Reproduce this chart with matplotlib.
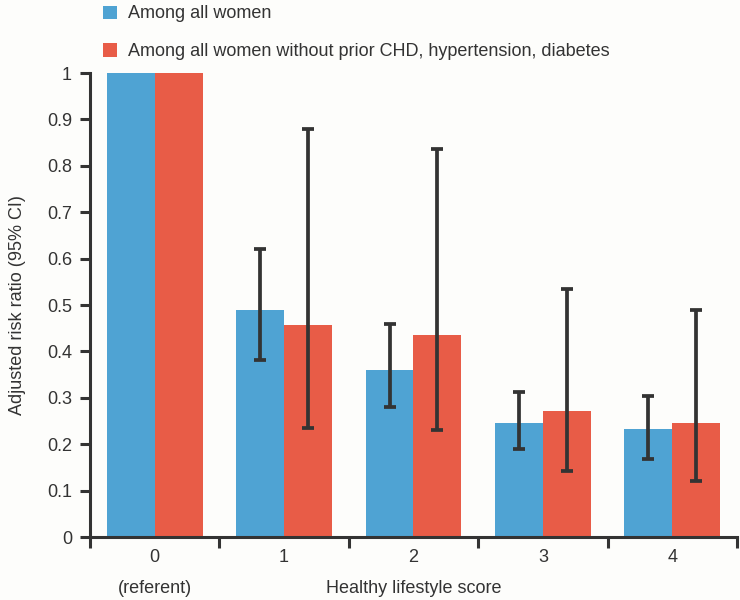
import matplotlib.pyplot as plt
import numpy as np

plt.rcParams['font.family'] = ['Liberation Sans Narrow', 'Liberation Sans', 'DejaVu Sans']

scores = ["0", "1", "2", "3", "4"]
series_names = ["Among all women",
                "Among all women without prior CHD, hypertension, diabetes"]
all_rr = [1.0, 0.49, 0.36, 0.246, 0.233]
all_lo = [np.nan, 0.381, 0.28, 0.19, 0.168]
all_hi = [np.nan, 0.62, 0.459, 0.312, 0.304]
noprior_rr = [1.0, 0.457, 0.435, 0.272, 0.246]
noprior_lo = [np.nan, 0.235, 0.231, 0.142, 0.121]
noprior_hi = [np.nan, 0.879, 0.836, 0.534, 0.49]

blue = '#4FA3D3'
red = '#E85C47'
dark = '#333333'

fig = plt.figure(figsize=(7.4, 6), dpi=100)
fig.patch.set_facecolor('#FDFDFB')
ax = fig.add_axes([0.1216, 0.105, 0.8743, 0.7733])
ax.set_facecolor('#FDFDFB')

x = np.arange(len(scores))
w = 0.37

def errs(rr, lo, hi):
    rr = np.array(rr); lo = np.array(lo); hi = np.array(hi)
    return np.vstack([rr - lo, hi - rr])

b1 = ax.bar(x - w / 2, all_rr, w, color=blue, label=series_names[0])
b2 = ax.bar(x + w / 2, noprior_rr, w, color=red, label=series_names[1])
# confidence intervals
ax.errorbar(x - w / 2, all_rr, yerr=errs(all_rr, all_lo, all_hi), fmt='none',
            ecolor=dark, elinewidth=2.7, capsize=4.5, capthick=2.7)
ax.errorbar(x + w / 2, noprior_rr, yerr=errs(noprior_rr, noprior_lo, noprior_hi), fmt='none',
            ecolor=dark, elinewidth=2.7, capsize=4.5, capthick=2.7)

ax.set_xlim(-0.5, 4.5)
ax.set_ylim(0, 1)
ax.set_yticks(np.arange(0, 1.01, 0.1))
ax.set_yticklabels(["0", "0.1", "0.2", "0.3", "0.4", "0.5", "0.6", "0.7", "0.8", "0.9", "1"])
ax.set_xticks(x)
ax.set_xticklabels(scores)
ax.set_xticks(np.arange(-0.5, 4.6, 1), minor=True)
ax.tick_params(axis='x', which='major', length=0, pad=9, labelsize=13, labelcolor=dark)
ax.tick_params(axis='x', which='minor', length=8, width=2.2, color=dark, direction='out')
ax.tick_params(axis='y', length=7, width=2.2, color=dark, pad=6, labelsize=13, labelcolor=dark)

for s in ['top', 'right']:
    ax.spines[s].set_visible(False)
for s in ['left', 'bottom']:
    ax.spines[s].set_linewidth(2.2)
    ax.spines[s].set_color(dark)

ax.text(0, -0.112, "(referent)", transform=ax.get_xaxis_transform(),
        ha='center', va='center', fontsize=13, color=dark)
ax.set_xlabel("Healthy lifestyle score", fontsize=13, color=dark, labelpad=10)
ax.set_ylabel("Adjusted risk ratio (95% CI)", fontsize=13, color=dark, labelpad=15)

leg = fig.legend(handles=[b1, b2], loc='upper left', bbox_to_anchor=(0.13, 1.003),
                 frameon=False, fontsize=13, labelspacing=1.15, handlelength=0.75,
                 handleheight=0.75, handletextpad=0.6, borderaxespad=0)
for t in leg.get_texts():
    t.set_color(dark)

plt.savefig("out.png", dpi=100, facecolor=fig.get_facecolor())
